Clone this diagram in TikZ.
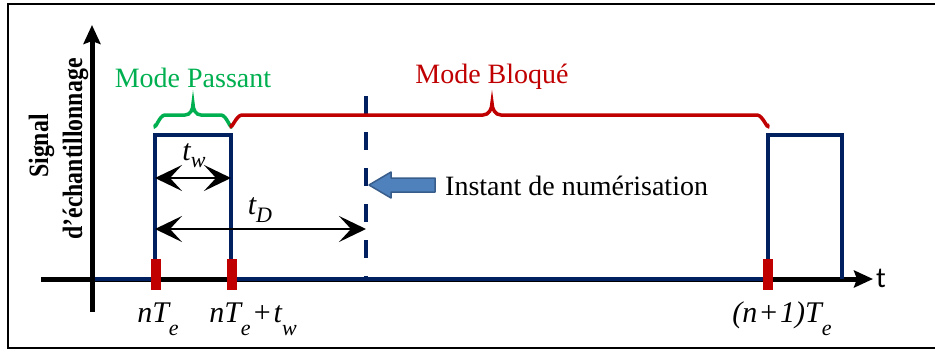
\documentclass[tikz,border=0pt]{standalone}
\usepackage{fontspec}
\setmainfont{Liberation Serif}
\newfontfamily\axisfont{Carlito}
\usetikzlibrary{arrows.meta}
\definecolor{navy}{HTML}{002060}
\definecolor{bred}{HTML}{C00000}
\definecolor{bgreen}{HTML}{00B050}
\definecolor{steel}{HTML}{4F81BD}
\definecolor{steeldark}{HTML}{385D8A}
% lowered italic subscript: optional drop, then the text
\newcommand\lowsub[2][13pt]{\raisebox{-#1}{\fontsize{22}{22}\selectfont\itshape #2}}
\newcommand\plussign{\kern3pt\upshape+\kern3pt\itshape}
\tikzset{
  axisline/.style={line width=5pt, black, -{Stealth[length=19pt,width=17pt,inset=3pt]}},
  sigline/.style={line width=4.5pt, navy, line join=miter},
  tick/.style={line width=10pt, bred},
  bracepath/.style={line width=3.5pt, line cap=round},
  dimhead/.style={Stealth[length=27pt,width=26pt,inset=12pt]},
  dimarrow/.style={line width=2.8pt, black, {Stealth[length=27pt,width=26pt,inset=12pt]}-{Stealth[length=27pt,width=26pt,inset=12pt]}},
  lbl/.style={inner sep=0pt, font=\fontsize{28}{30}\selectfont},
  mathlbl/.style={inner sep=0pt, font=\fontsize{30}{32}\selectfont\itshape},
  vlabel/.style={inner sep=0pt, rotate=90, anchor=base,
    font=\fontsize{28}{30}\selectfont\bfseries}
}
\begin{document}
\begin{tikzpicture}[x=1pt,y=-1pt]
\useasboundingbox (0,0) rectangle (935,351);
% frame
\draw[line width=1.8pt] (8,4) rectangle (950,348);

% axes
\coordinate (xs) at (41,279);
\coordinate (xe) at (873,279);
\coordinate (ys) at (92,312);
\coordinate (ye) at (92,25);
\draw[axisline] (xs) -- (xe);
\draw[axisline] (ys) -- (ye);
\node[anchor=base west, inner sep=0pt, font=\axisfont\fontsize{29}{30}\selectfont] (tlab) at (876,287) {t};

% sampling signal
\coordinate (s0) at (95,279);
\coordinate (a0) at (155,279);
\coordinate (a1) at (155,135);
\coordinate (b1) at (231,135);
\coordinate (b0) at (231,279);
\coordinate (c0) at (768,279);
\coordinate (c1) at (768,135);
\coordinate (d1) at (842,135);
\coordinate (d0) at (842,279);
\draw[sigline] (s0) -- (a0) -- (a1) -- (b1) -- (b0) -- (c0) -- (c1) -- (d1) -- (d0);

% sampling instants
\coordinate (ta) at (155.5,259);
\coordinate (tb) at (231.5,259);
\coordinate (tc) at (768,259);
\draw[tick] (ta) -- ++(0,31);
\draw[tick] (tb) -- ++(0,31);
\draw[tick] (tc) -- ++(0,31);

% digitisation instant
\coordinate (dtop) at (366,96);
\coordinate (dbot) at (366,279);
\draw[navy, line width=4pt, dash pattern=on 18pt off 18pt] (dtop) -- (dbot);

% braces
\draw[bracepath, bgreen] (155,125) to[out=-90,in=180] (165,115) -- (185,115)
  to[out=0,in=-90] (193,104) to[out=-90,in=180] (201,115) -- (221,115)
  to[out=0,in=-90] (231,125);
\draw[bracepath, bred] (231,125) to[out=-90,in=180] (242,115) -- (483,115)
  to[out=0,in=-90] (492,103) to[out=-90,in=180] (501,115) -- (757,115)
  to[out=0,in=-90] (768,125);
\node[lbl, text=bgreen, anchor=base] (passant) at (193,87) {Mode Passant};
\node[lbl, text=bred, anchor=base] (bloque) at (492,83) {Mode Bloqué};

% durations
\coordinate (w1) at (155,178);
\coordinate (w2) at (231,178);
\coordinate (D1) at (155,229);
\coordinate (D2) at (366,229);
\draw[dimarrow] (w1) -- (w2);
\draw[dimarrow] (D1) -- (D2);
\node[mathlbl, anchor=base] (tw) at (194,160) {t\lowsub[7pt]{w}};
\node[mathlbl, anchor=base] (tD) at (260,214) {t\lowsub[8pt]{D}};

% block arrow and its caption
\node[lbl, anchor=base west] (inst) at (445,195) {Instant de numérisation};
\draw[fill=steel, draw=steeldark, line width=1.5pt, line join=round]
  (369,185) -- (391,172) -- (391,178) -- (435,178) -- (435,192) -- (391,192) -- (391,198) -- cycle;

% axis label
\node[vlabel] (sig1) at (48,146) {\scalebox{0.85}[1]{Signal}};
\node[vlabel] (sig2) at (82,149) {\scalebox{0.85}[1]{d’échantillonnage}};

% instants
\node[mathlbl, anchor=base] (lnT) at (158,322) {nT\lowsub{e}};
\node[mathlbl, anchor=base] (lnTw) at (253,322) {nT\lowsub{e}\plussign t\lowsub{w}};
\node[mathlbl, anchor=base] (lnT1) at (782,322) {(n\plussign 1)T\lowsub{e}};
\end{tikzpicture}
\end{document}
